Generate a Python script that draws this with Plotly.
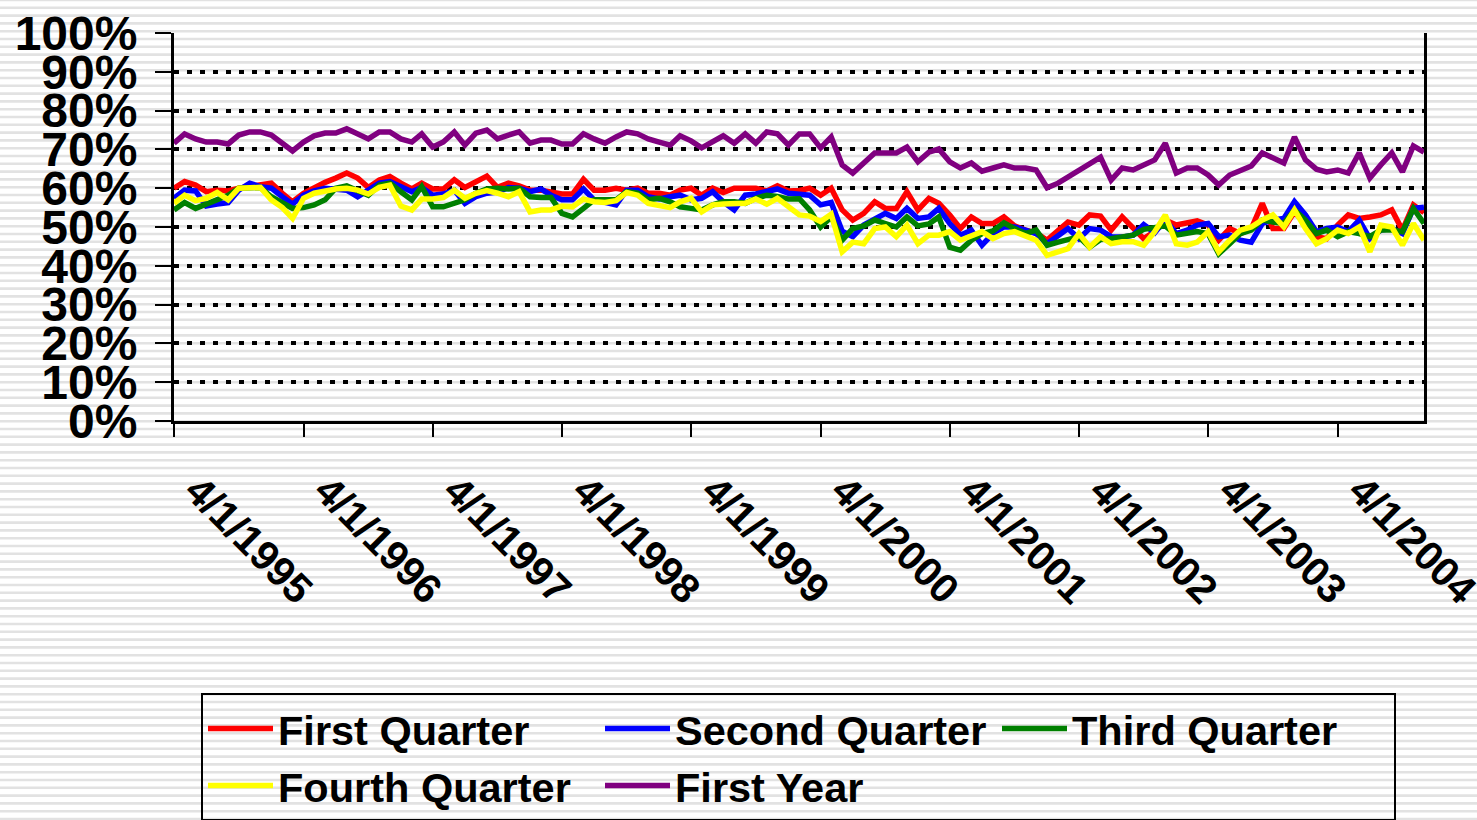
import pandas as pd
import plotly.graph_objects as go

# Monthly observations, 4/1/1995 .. 12/1/2004 (117 months)
months = pd.date_range("1995-04-01", periods=117, freq="MS")

first_quarter = [
    60.0, 61.7, 60.8, 59.1, 59.5, 59.3, 60.0, 60.4, 60.8, 61.3,
    58.7, 56.5, 58.7, 60.2, 61.5, 62.6, 63.9, 62.6, 60.2, 62.1,
    63.0, 61.3, 59.8, 61.3, 59.8, 59.8, 62.2, 60.2, 61.5, 63.1,
    60.2, 61.3, 60.6, 59.5, 59.5, 59.1, 58.5, 58.5, 62.3, 59.5,
    59.5, 60.0, 59.5, 60.0, 58.7, 58.7, 58.2, 59.5, 60.0, 58.2,
    60.0, 58.9, 60.0, 60.0, 60.0, 59.3, 60.6, 59.3, 59.4, 60.0,
    58.2, 60.0, 54.4, 51.8, 53.5, 56.5, 54.8, 54.8, 59.1, 54.4,
    57.4, 56.1, 53.1, 49.6, 52.6, 50.9, 50.9, 52.6, 50.3, 49.2,
    48.5, 46.6, 49.2, 51.3, 50.5, 53.1, 52.8, 49.2, 52.6, 49.6,
    47.0, 48.8, 51.8, 50.5, 50.9, 51.6, 50.5, 46.6, 49.6, 48.3,
    49.6, 56.1, 49.6, 49.6, 53.9, 50.9, 47.5, 47.0, 50.5, 53.1,
    52.2, 52.6, 53.1, 54.4, 49.2, 55.7, 53.7,
]
second_quarter = [
    57.4, 59.5, 59.3, 55.4, 55.9, 56.3, 59.5, 61.3, 60.4, 60.0,
    57.8, 55.9, 58.2, 59.3, 60.0, 59.8, 59.5, 57.8, 59.5, 61.3,
    61.7, 60.4, 59.1, 60.2, 58.2, 58.5, 59.5, 56.1, 57.8, 58.7,
    59.0, 60.2, 60.0, 59.1, 59.8, 58.2, 57.0, 57.0, 59.8, 57.0,
    56.5, 55.7, 59.5, 59.5, 57.8, 57.2, 57.8, 58.2, 57.0, 57.4,
    59.1, 56.5, 54.4, 58.2, 58.5, 59.1, 59.8, 58.7, 58.4, 58.2,
    55.7, 56.3, 48.9, 47.5, 50.5, 52.2, 53.5, 52.2, 54.8, 52.2,
    52.6, 54.8, 50.9, 47.9, 49.2, 45.3, 48.3, 50.0, 50.0, 49.2,
    48.3, 45.7, 47.9, 49.6, 47.0, 49.6, 49.2, 47.5, 47.4, 47.9,
    50.6, 48.5, 51.8, 48.3, 49.2, 50.5, 50.9, 47.5, 47.9, 46.6,
    46.1, 50.9, 51.8, 52.2, 56.5, 53.1, 48.8, 49.6, 50.0, 48.8,
    51.8, 47.0, 49.2, 49.6, 48.3, 54.8, 55.1,
]
third_quarter = [
    54.4, 56.3, 54.8, 55.9, 57.0, 58.2, 60.0, 60.2, 60.2, 57.8,
    56.1, 54.8, 55.0, 55.7, 57.0, 60.0, 60.6, 59.5, 58.2, 60.8,
    61.3, 59.1, 57.0, 60.4, 55.2, 55.2, 56.3, 57.0, 58.7, 59.8,
    60.0, 59.8, 60.0, 57.8, 57.6, 57.6, 53.5, 52.6, 54.8, 57.0,
    57.0, 57.0, 59.1, 58.7, 57.0, 57.4, 56.5, 55.2, 54.8, 54.4,
    55.7, 56.5, 56.5, 56.1, 57.4, 58.2, 57.9, 57.2, 57.3, 54.4,
    50.0, 52.6, 46.6, 49.6, 50.3, 51.8, 50.9, 50.0, 52.6, 50.3,
    50.8, 52.6, 44.8, 44.0, 46.6, 48.3, 49.0, 51.1, 49.6, 48.3,
    49.2, 45.3, 46.1, 46.7, 47.5, 44.8, 46.8, 47.0, 47.3, 47.9,
    49.4, 50.0, 50.3, 47.9, 48.3, 48.8, 48.3, 43.1, 45.7, 48.3,
    49.2, 51.8, 51.3, 50.9, 54.4, 51.8, 48.3, 49.2, 47.5, 48.8,
    48.3, 47.5, 49.2, 49.2, 48.8, 54.8, 50.9,
]
fourth_quarter = [
    56.1, 58.2, 56.8, 57.4, 58.9, 57.0, 60.0, 60.2, 60.2, 57.0,
    55.0, 52.2, 57.4, 58.7, 59.3, 59.8, 60.0, 59.5, 58.5, 60.2,
    60.8, 55.4, 54.4, 57.2, 57.2, 57.6, 59.5, 57.4, 58.7, 59.4,
    58.7, 57.8, 59.1, 53.9, 54.4, 54.4, 55.4, 55.2, 57.2, 56.5,
    56.3, 56.8, 58.9, 58.2, 56.1, 55.7, 55.0, 56.5, 57.4, 53.9,
    55.7, 55.9, 55.9, 56.1, 57.2, 55.9, 57.4, 55.2, 53.1, 52.8,
    51.4, 53.3, 43.6, 46.1, 45.7, 49.6, 50.0, 47.5, 50.5, 45.7,
    47.9, 47.9, 48.8, 46.6, 47.9, 48.8, 47.0, 48.3, 48.8, 47.5,
    46.6, 42.7, 43.6, 44.4, 48.3, 44.8, 47.5, 45.7, 46.2, 46.2,
    45.3, 48.8, 53.1, 45.7, 45.3, 46.1, 48.8, 43.6, 46.6, 49.2,
    50.0, 51.8, 53.1, 50.0, 54.4, 49.6, 45.7, 47.0, 49.2, 48.3,
    50.0, 43.6, 50.5, 50.0, 45.3, 50.9, 46.6,
]
first_year = [
    71.6, 74.0, 72.7, 71.9, 71.9, 71.4, 73.7, 74.5, 74.5, 73.7,
    71.6, 69.6, 71.9, 73.5, 74.2, 74.2, 75.3, 74.0, 72.7, 74.5,
    74.5, 72.7, 71.9, 74.0, 70.6, 71.9, 74.5, 71.1, 74.2, 75.0,
    72.7, 73.7, 74.5, 71.6, 72.4, 72.4, 71.4, 71.4, 74.0, 72.7,
    71.6, 73.2, 74.5, 74.0, 72.7, 71.9, 71.1, 73.5, 72.2, 70.4,
    71.9, 73.5, 71.6, 74.0, 71.6, 74.5, 74.0, 71.1, 74.0, 74.0,
    70.4, 73.2, 66.0, 63.9, 66.5, 69.1, 69.1, 69.1, 70.6, 66.8,
    69.3, 70.1, 66.8, 65.2, 66.5, 64.4, 65.2, 66.0, 65.2, 65.2,
    64.7, 60.1, 61.3, 62.9, 64.4, 66.0, 68.0, 62.1, 65.2, 64.7,
    66.0, 67.3, 71.6, 63.9, 65.2, 65.2, 63.4, 60.8, 63.4, 64.7,
    65.7, 69.1, 68.0, 66.5, 73.2, 67.3, 64.9, 64.2, 64.7, 63.9,
    69.1, 62.6, 66.0, 69.1, 64.2, 70.9, 69.3,
]

series_names = ["First Quarter", "Second Quarter", "Third Quarter",
                "Fourth Quarter", "First Year"]
series_values = [first_quarter, second_quarter, third_quarter,
                 fourth_quarter, first_year]
series_colors = ["#FF0000", "#0000FF", "#008000", "#FFFF00", "#800080"]

W, H = 1477, 820
ML, MR, MT, MB = 174, 53, 33, 399
PW, PH = W - ML - MR, H - MT - MB

FONT = "Liberation Sans, Arial, sans-serif"

fig = go.Figure()
for name, vals, col in zip(series_names, series_values, series_colors):
    fig.add_trace(go.Scatter(x=months, y=vals, mode="lines", name=name,
                             line=dict(color=col, width=5.5)))

# striped background (decorative, paper coordinates)
def px_to_paper_x(px):
    return (px - ML) / PW

def px_to_paper_y(py):
    return (H - MB - py) / PH

path = ""
k = 0
while True:
    py = 23.4 + 7.8 * (k - 3)
    if py > H + 4:
        break
    yp = px_to_paper_y(py)
    path += f"M{px_to_paper_x(-5):.5f},{yp:.5f} L{px_to_paper_x(W + 5):.5f},{yp:.5f} "
    k += 1
fig.add_shape(type="path", path=path, xref="paper", yref="paper",
              line=dict(color="#e2e2e2", width=2.6), layer="below")

fig.update_layout(
    template="none",
    width=W, height=H,
    margin=dict(l=ML, r=MR, t=MT, b=MB, autoexpand=False),
    paper_bgcolor="white",
    plot_bgcolor="rgba(0,0,0,0)",
    font=dict(family=FONT, color="black", weight="bold"),
    showlegend=True,
    legend=dict(
        orientation="h",
        x=px_to_paper_x(201), y=px_to_paper_y(693),
        xanchor="left", yanchor="top",
        bgcolor="rgba(0,0,0,0)",
        bordercolor="black", borderwidth=2,
        font=dict(family=FONT, size=41.5, color="black", weight="bold"),
        itemwidth=65,
        entrywidth=317, entrywidthmode="pixels",
        traceorder="normal",
    ),
    xaxis=dict(
        type="date",
        range=[months[0], months[-1]],
        tickmode="linear", tick0="1995-04-01", dtick="M12",
        tickformat="%-m/%-d/%Y",
        tickangle=45,
        ticks="outside", ticklen=13, tickwidth=2, tickcolor="black",
        showline=True, linecolor="black", linewidth=3,
        showgrid=False, zeroline=False,
        tickfont=dict(family=FONT, size=41, color="black", weight="bold"),
        ticklabelstandoff=13, ticklabelshift=23,
        ticklabeloverflow="allow",
        automargin=False,
    ),
    yaxis=dict(
        range=[0, 100], tickmode="linear", tick0=0, dtick=10,
        ticksuffix="%",
        ticks="outside", ticklen=16, tickwidth=2, tickcolor="black",
        showline=True, linecolor="black", linewidth=3, mirror=True,
        showgrid=True, gridcolor="black", gridwidth=3.5, griddash="5px,8px",
        zeroline=False,
        tickfont=dict(family=FONT, size=48, color="black", weight="bold"),
        ticklabelstandoff=8,
        automargin=False,
    ),
)

fig.write_html("out.html",
               config={"displayModeBar": False},
               post_script="document.body.style.margin='0px';document.body.style.overflow='hidden';")
